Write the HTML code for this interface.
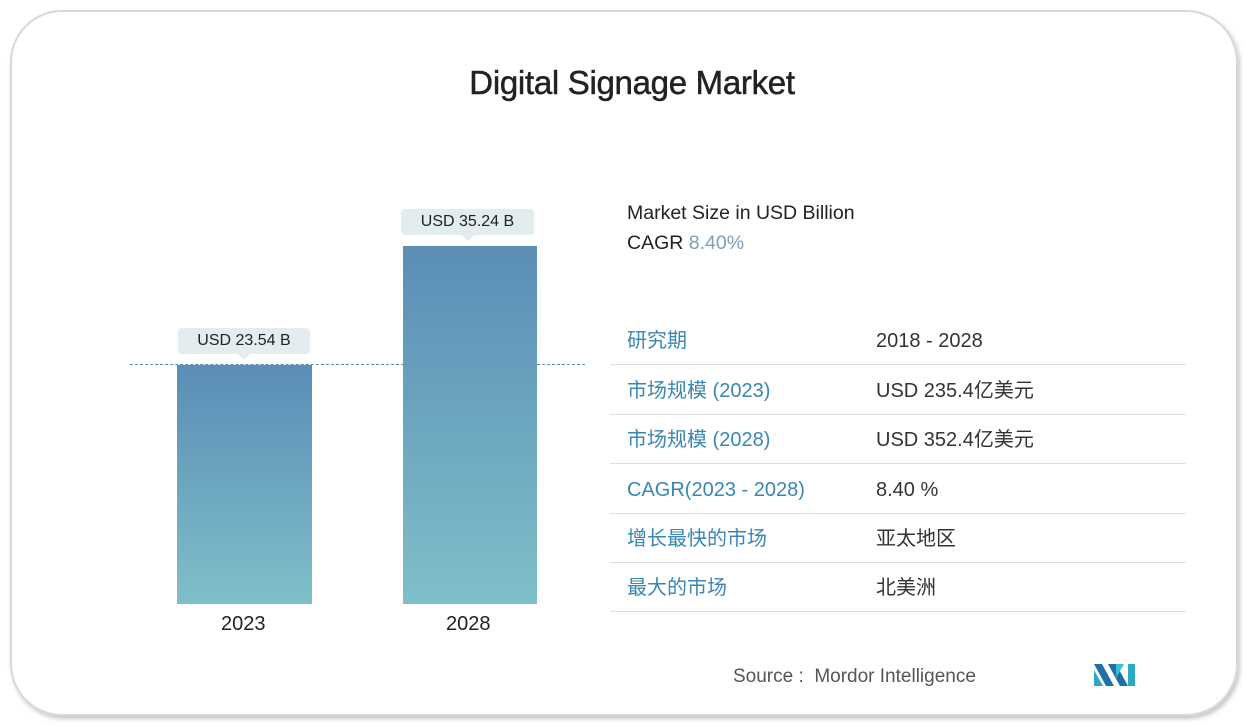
<!DOCTYPE html>
<html><head><meta charset="utf-8"><style>
*{margin:0;padding:0;box-sizing:border-box}
body{width:1246px;height:726px;background:#fff;position:relative;overflow:hidden;font-family:"Liberation Sans","Noto Sans CJK SC",sans-serif}
.card{position:absolute;left:10px;top:10px;width:1228px;height:706px;border:2px solid #d8d8d8;border-radius:52px;box-shadow:2px 3px 4px #c8c8c8}
.a{position:absolute;white-space:nowrap}
.title{left:0;width:1264px;top:64px;text-align:center;font-size:33px;color:#222;letter-spacing:-0.3px;-webkit-text-stroke:0.5px #222}
.bar{position:absolute;background:linear-gradient(#5b8db6,#7fbfc9)}
.lbl{position:absolute;background:#e3ecef;border-radius:4px;font-size:16px;color:#222;text-align:center;line-height:26px}
.lbl:after{content:"";position:absolute;left:50%;bottom:-6px;margin-left:-6px;border-left:6px solid transparent;border-right:6px solid transparent;border-top:6px solid #e3ecef}
.yr{font-size:20px;color:#222;top:613px}
.row{position:absolute;left:610px;width:576px;height:49px;border-bottom:1.5px solid #ddd;font-size:20px}
.row span{position:absolute;top:12px;line-height:26px}
.k{left:17px;color:#3a86b4}.v{left:266px;color:#333}
</style></head><body>
<div class="card"></div>
<div class="a title">Digital Signage Market</div>
<div style="position:absolute;left:130px;top:364px;width:455px;border-top:1.5px dashed #5a8cb0"></div>
<div class="bar" style="left:177px;top:365px;width:135px;height:239px"></div>
<div class="bar" style="left:403px;top:246px;width:134px;height:358px"></div>
<div class="lbl" style="left:178px;top:328px;width:132px">USD 23.54 B</div>
<div class="lbl" style="left:401px;top:209px;width:133px">USD 35.24 B</div>
<div class="a yr" style="left:221px">2023</div>
<div class="a yr" style="left:446px">2028</div>
<div class="a" style="left:627px;top:202px;font-size:19.5px;color:#222">Market Size in USD Billion</div>
<div class="a" style="left:627px;top:232px;font-size:19.5px;color:#222">CAGR <span style="color:#7b9fb6">8.40%</span></div>
<div class="row" style="top:316px"><span class="k">研究期</span><span class="v">2018 - 2028</span></div>
<div class="row" style="top:366px"><span class="k">市场规模 (2023)</span><span class="v">USD 235.4亿美元</span></div>
<div class="row" style="top:415px"><span class="k">市场规模 (2028)</span><span class="v">USD 352.4亿美元</span></div>
<div class="row" style="top:465px"><span class="k">CAGR(2023 - 2028)</span><span class="v">8.40 %</span></div>
<div class="row" style="top:514px"><span class="k">增长最快的市场</span><span class="v">亚太地区</span></div>
<div class="row" style="top:563px"><span class="k">最大的市场</span><span class="v">北美洲</span></div>
<div class="a" style="left:733px;top:666px;font-size:19px;color:#555">Source :&nbsp; Mordor Intelligence</div>
<svg style="position:absolute;left:1094px;top:664px" width="42" height="22">
<polygon points="0,0 8,0 20,22 12,22" fill="#1f6fa8"/><polygon points="0,6 0,22 9,22" fill="#2aa8c8"/>
<polygon points="14,0 22,0 34,22 26,22" fill="#1f6fa8"/><polygon points="22,0 30,0 22,14" fill="#3cc0d0"/>
<rect x="34" y="0" width="7" height="22" fill="#2aa8c8"/></svg>
</body></html>
